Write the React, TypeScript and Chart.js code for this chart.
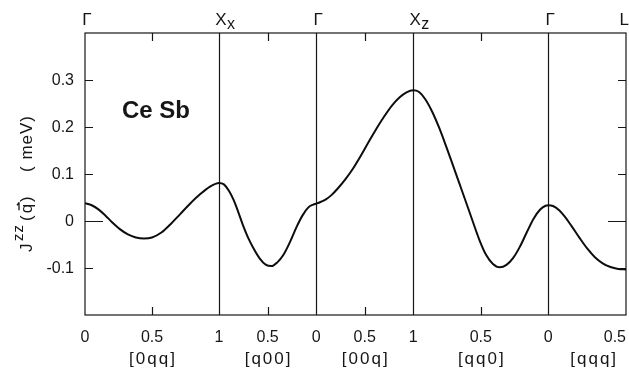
import React, { useEffect, useRef } from 'react';
import { Chart, registerables } from 'chart.js';

Chart.register(...registerables);

// Symmetry points along the top
const topLabels = ['Γ', 'X', 'Γ', 'X', 'Γ', 'L'];
const topSubs = ['', 'x', '', 'z', '', ''];

// Path segments
const segNames = ['[0qq]', '[q00]', '[00q]', '[qq0]', '[qqq]'];
const segLengths = [1.38, 1.0, 1.0, 1.39, 0.8];
const segFrom = [0, 1, 0, 1, 0];
const segTo = [1, 0, 1, 0, 0.5];

// Bottom tick labels (segment index, q value)
const tickSeg = [0, 0, 0, 1, 1, 2, 2, 3, 3, 4];
const tickQ = [0, 0.5, 1, 0.5, 0, 0.5, 1, 0.5, 0, 0.5];
const tickText = ['0', '0.5', '1', '0.5', '0', '0.5', '1', '0.5', '0', '0.5'];

// Y axis
const yMin = -0.2;
const yMax = 0.4;
const yTicks = [-0.1, 0, 0.1, 0.2, 0.3];
const yTickText = ['-0.1', '0', '0.1', '0.2', '0.3'];

// J^zz(q) in meV along each segment
const seg1Q = [0, 0.05, 0.1, 0.15, 0.2, 0.26, 0.32, 0.38, 0.44, 0.5, 0.57, 0.64, 0.71, 0.78, 0.86, 0.93, 1];
const seg1J = [0.038, 0.0335, 0.0248, 0.0123, -0.002, -0.0173, -0.0284, -0.035, -0.0371, -0.035, -0.0245, -0.0063, 0.0147, 0.0357, 0.0573, 0.0727, 0.081];
const seg2Q = [0.95, 0.9, 0.85, 0.8, 0.75, 0.7, 0.64, 0.58, 0.52, 0.46, 0.4, 0.34, 0.27, 0.2, 0.14, 0.08, 0.03, 0];
const seg2J = [0.078, 0.065, 0.045, 0.018, -0.011, -0.036, -0.06, -0.08, -0.093, -0.096, -0.088, -0.073, -0.045, -0.012, 0.012, 0.029, 0.035, 0.037];
const seg3Q = [0.05, 0.1, 0.16, 0.22, 0.3, 0.38, 0.46, 0.54, 0.62, 0.7, 0.78, 0.86, 0.93, 1];
const seg3J = [0.041, 0.046, 0.0556, 0.0686, 0.0886, 0.1118, 0.139, 0.168, 0.1964, 0.2224, 0.2456, 0.2632, 0.2737, 0.278];
const seg4Q = [0.96, 0.91, 0.86, 0.81, 0.76, 0.71, 0.66, 0.61, 0.56, 0.51, 0.46, 0.41, 0.36, 0.31, 0.26, 0.21, 0.16, 0.11, 0.06, 0.02, 0];
const seg4J = [0.275, 0.2585, 0.2325, 0.1995, 0.1615, 0.1215, 0.081, 0.0405, -0.0005, -0.0405, -0.0725, -0.0915, -0.0985, -0.0935, -0.0785, -0.0545, -0.0245, 0.0045, 0.0245, 0.0325, 0.0335];
const seg5Q = [0.03, 0.07, 0.11, 0.15, 0.2, 0.25, 0.3, 0.35, 0.4, 0.45, 0.5];
const seg5J = [0.032, 0.023, 0.0078, -0.011, -0.0355, -0.0585, -0.077, -0.09, -0.098, -0.102, -0.103];

const segQ = [seg1Q, seg2Q, seg3Q, seg4Q, seg5Q];
const segJ = [seg1J, seg2J, seg3J, seg4J, seg5J];

const segOffsets: number[] = [];
{
  let acc = 0;
  for (let i = 0; i < segLengths.length; i++) {
    segOffsets.push(acc);
    acc += segLengths[i];
  }
  segOffsets.push(acc);
}
const totalLen = segOffsets[segOffsets.length - 1];

function pathX(seg: number, q: number) {
  return segOffsets[seg] + (segLengths[seg] * Math.abs(q - segFrom[seg])) / Math.abs(segTo[seg] - segFrom[seg]);
}

const FONT = '"Liberation Sans", Arial, Helvetica, sans-serif';
const INK = '#161616';

const decorPlugin = {
  id: 'decor',
  beforeDatasetsDraw(chart: any) {
    const { ctx, chartArea, scales } = chart;
    const xs = scales.x;
    const ys = scales.y;
    const L = chartArea.left, R = chartArea.right, T = chartArea.top, B = chartArea.bottom;
    ctx.save();
    ctx.strokeStyle = INK;
    ctx.lineWidth = 1.2;
    ctx.strokeRect(L, T, R - L, B - T);
    for (let i = 1; i < segOffsets.length - 1; i++) {
      const x = Math.round(xs.getPixelForValue(segOffsets[i])) + 0.5;
      ctx.beginPath();
      ctx.moveTo(x, T);
      ctx.lineTo(x, B);
      ctx.stroke();
    }
    for (let s = 0; s < 4; s++) {
      const x = Math.round(xs.getPixelForValue(pathX(s, 0.5))) + 0.5;
      ctx.beginPath();
      ctx.moveTo(x, T);
      ctx.lineTo(x, T + 8);
      ctx.moveTo(x, B);
      ctx.lineTo(x, B - 8);
      ctx.stroke();
    }
    for (const v of yTicks) {
      const y = Math.round(ys.getPixelForValue(v)) + 0.5;
      const len = v === 0 ? 18 : 8;
      ctx.beginPath();
      ctx.moveTo(L, y);
      ctx.lineTo(L + len, y);
      ctx.moveTo(R, y);
      ctx.lineTo(R - len, y);
      ctx.stroke();
    }
    ctx.restore();
  },
  afterDraw(chart: any) {
    const { ctx, chartArea, scales } = chart;
    const xs = scales.x;
    const ys = scales.y;
    const L = chartArea.left, B = chartArea.bottom;
    ctx.save();
    ctx.fillStyle = INK;

    // top symmetry labels
    ctx.textBaseline = 'alphabetic';
    for (let i = 0; i < topLabels.length; i++) {
      const x = xs.getPixelForValue(segOffsets[i]);
      ctx.font = `17px ${FONT}`;
      if (i === topLabels.length - 1) {
        ctx.textAlign = 'right';
        ctx.fillText(topLabels[i], x + 3, 25);
        continue;
      }
      ctx.textAlign = 'center';
      ctx.fillText(topLabels[i], x + 2, 25);
      if (topSubs[i]) {
        ctx.font = `16px ${FONT}`;
        ctx.textAlign = 'left';
        ctx.fillText(topSubs[i], x + 8, 29);
      }
    }

    // y tick labels
    ctx.font = `16px ${FONT}`;
    ctx.textAlign = 'right';
    ctx.textBaseline = 'middle';
    for (let i = 0; i < yTicks.length; i++) {
      const y = ys.getPixelForValue(yTicks[i]);
      ctx.fillText(yTickText[i], L - 11, y + 1);
    }

    // bottom tick labels
    for (let i = 0; i < tickQ.length; i++) {
      const x = xs.getPixelForValue(pathX(tickSeg[i], tickQ[i]));
      if (i === tickQ.length - 1) {
        ctx.textAlign = 'right';
        ctx.fillText(tickText[i], x, B + 23);
      } else {
        ctx.textAlign = 'center';
        ctx.fillText(tickText[i], x, B + 23);
      }
    }

    // segment direction labels
    ctx.font = `17px ${FONT}`;
    ctx.letterSpacing = '2px';
    for (let s = 0; s < segNames.length; s++) {
      let x = xs.getPixelForValue(pathX(s, s === 4 ? 0.25 : 0.5));
      if (s === 4) x += 6;
      ctx.textAlign = 'center';
      ctx.fillText(segNames[s], x + 1, B + 44);
    }
    ctx.letterSpacing = '0px';

    // CeSb label
    ctx.font = `bold 24px ${FONT}`;
    ctx.textAlign = 'left';
    ctx.textBaseline = 'alphabetic';
    ctx.fillText('Ce Sb', 122, 118);

    // rotated y title
    ctx.save();
    ctx.translate(32, 252);
    ctx.rotate(-Math.PI / 2);
    ctx.textAlign = 'left';
    ctx.textBaseline = 'alphabetic';
    ctx.font = `17px ${FONT}`;
    ctx.fillText('J', 0, 0);
    ctx.font = `15px ${FONT}`;
    ctx.letterSpacing = '1px';
    ctx.fillText('zz', 11, -9);
    ctx.letterSpacing = '2px';
    ctx.font = `17px ${FONT}`;
    ctx.fillText('(q)', 31, 0);
    const qx = 31 + ctx.measureText('(').width + 2;
    ctx.strokeStyle = INK;
    ctx.lineWidth = 1.3;
    ctx.beginPath();
    ctx.moveTo(qx + 1, -13);
    ctx.lineTo(qx + 9, -13);
    ctx.moveTo(qx + 6, -15);
    ctx.lineTo(qx + 9, -13);
    ctx.stroke();
    ctx.letterSpacing = '1px';
    ctx.fillText('( meV)', 80, 0);
    ctx.restore();

    ctx.restore();
  },
};

export default function App() {
  const ref = useRef<HTMLCanvasElement | null>(null);
  useEffect(() => {
    if (!ref.current) return;
    const pts: { x: number; y: number }[] = [];
    for (let s = 0; s < segQ.length; s++) {
      for (let k = 0; k < segQ[s].length; k++) {
        pts.push({ x: pathX(s, segQ[s][k]), y: segJ[s][k] });
      }
    }
    pts.sort((a, b) => a.x - b.x);
    const chart = new Chart(ref.current, {
      type: 'line',
      data: {
        datasets: [
          {
            data: pts,
            borderColor: '#0d0d0d',
            borderWidth: 2,
            pointRadius: 0,
            fill: false,
            cubicInterpolationMode: 'monotone',
          },
        ],
      },
      options: {
        responsive: false,
        animation: false,
        devicePixelRatio: 1,
        layout: { padding: { left: 85, right: 3, top: 33, bottom: 58 } },
        plugins: { legend: { display: false }, tooltip: { enabled: false } },
        scales: {
          x: { type: 'linear', min: 0, max: totalLen, display: false },
          y: { type: 'linear', min: yMin, max: yMax, display: false },
        },
      },
      plugins: [decorPlugin],
    });
    return () => chart.destroy();
  }, []);
  return (
    <div style={{ position: 'absolute', left: 0, top: 0, width: 629, height: 373, background: '#fff' }}>
      <canvas ref={ref} width={629} height={373} style={{ display: 'block' }} />
    </div>
  );
}
